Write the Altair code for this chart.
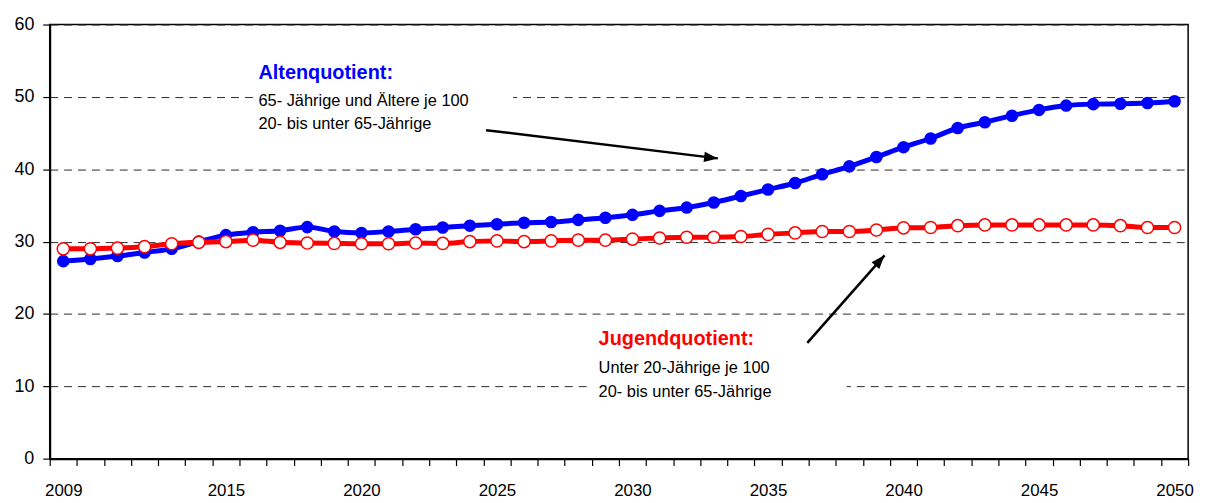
import altair as alt
import pandas as pd

# ---------------- data ----------------
years = list(range(2009, 2051))
alten = [27.3, 27.6, 28.0, 28.5, 29.0, 30.0, 30.9, 31.3, 31.5, 32.0, 31.4, 31.2, 31.4, 31.7,
         31.95, 32.2, 32.4, 32.6, 32.7, 33.0, 33.3, 33.7, 34.25, 34.7, 35.4, 36.3, 37.2, 38.1,
         39.3, 40.4, 41.7, 43.05, 44.25, 45.7, 46.5, 47.4, 48.2, 48.8, 49.0, 49.05, 49.15, 49.4]
jugend = [29.0, 29.0, 29.1, 29.3, 29.7, 29.9, 30.0, 30.2, 29.9, 29.8, 29.75, 29.7, 29.7, 29.8,
          29.75, 30.0, 30.1, 30.0, 30.1, 30.2, 30.2, 30.35, 30.5, 30.6, 30.6, 30.7, 31.0, 31.2,
          31.4, 31.4, 31.6, 31.9, 31.95, 32.2, 32.3, 32.3, 32.3, 32.3, 32.3, 32.2, 31.95, 31.95]

tick_years = [y - 0.5 for y in years] + [years[-1] + 0.5]
label_years = [2009, 2015, 2020, 2025, 2030, 2035, 2040, 2045, 2050]
y_ticks = [0, 10, 20, 30, 40, 50, 60]

# annotation texts (anchored in data coordinates)
title_text = ["Altenquotient:", "Jugendquotient:"]
title_color = ["#0000FF", "#FF0000"]
title_x = [2016.2, 2028.75]
title_y = [52.5, 15.7]

body_text = ["65- Jährige und Ältere je 100", "20- bis unter 65-Jährige",
             "Unter 20-Jährige je 100", "20- bis unter 65-Jährige"]
body_x = [2016.2, 2016.2, 2028.75, 2028.75]
body_y = [48.7, 45.5, 11.8, 8.5]

box_x = [2016.05, 2028.5]
box_x2 = [2025.6, 2037.9]
box_y = [44.0, 7.3]
box_y2 = [55.0, 19.0]

arrow_x = [2024.6, 2036.45]
arrow_y = [45.4, 16.0]
arrow_x2 = [2033.15, 2039.3]
arrow_y2 = [41.5, 28.1]
arrow_angle = [96.8, 41.6]

# ---------------- chart ----------------
FONT = "Liberation Sans, Arial, sans-serif"
W, H = 1146, 437

df = pd.DataFrame({"year": years, "alten": alten, "jugend": jugend})
titles = pd.DataFrame({"t": title_text, "c": title_color, "x": title_x, "y": title_y})
bodies = pd.DataFrame({"t": body_text, "x": body_x, "y": body_y})
boxes = pd.DataFrame({"x": box_x, "x2": box_x2, "y": box_y, "y2": box_y2})
arrows = pd.DataFrame({"x": arrow_x, "y": arrow_y, "x2": arrow_x2, "y2": arrow_y2, "a": arrow_angle})

xs = alt.Scale(domain=[2008.5, 2050.5], nice=False, zero=False)
ys = alt.Scale(domain=[0, 60], nice=False, zero=False)

x_tick_axis = alt.Axis(values=tick_years, labels=False, ticks=True, tickSize=7,
                       tickColor="black", tickWidth=1.2, domain=True, domainColor="black",
                       domainWidth=2, grid=False, title=None, orient="bottom")
x_label_axis = alt.Axis(values=label_years, ticks=False, domain=False, labels=True,
                        labelFontSize=17, labelFont=FONT, labelColor="black",
                        labelPadding=24, labelOverlap=False, labelFlush=False,
                        format="d", grid=False, title=None, orient="bottom")
y_axis = alt.Axis(values=y_ticks, grid=True, gridDash=[8, 6], gridColor="#2a2a2a",
                  gridWidth=1, tickSize=7, tickColor="black", tickWidth=1.2,
                  domainColor="black", domainWidth=2, labelFontSize=18, labelFont=FONT,
                  labelColor="black", labelPadding=9, title=None, format="d")


def X(field, axis=None):
    return alt.X(field, type="quantitative", scale=xs, axis=axis)


def Y(field):
    return alt.Y(field, type="quantitative", scale=ys, axis=y_axis)


blue_line = alt.Chart(df).mark_line(color="#0000FF", strokeWidth=5, interpolate="monotone").encode(
    x=X("year", x_tick_axis), y=Y("alten"))
blue_pts = alt.Chart(df).mark_point(filled=True, color="#0000FF", size=160, opacity=1,
                                    shape="circle").encode(x=X("year"), y=Y("alten"))
red_line = alt.Chart(df).mark_line(color="#FF0000", strokeWidth=5, interpolate="monotone").encode(
    x=X("year", x_label_axis), y=Y("jugend"))
red_pts = alt.Chart(df).mark_point(filled=True, fill="white", stroke="#FF0000", strokeWidth=1.5,
                                   size=150, opacity=1, shape="circle").encode(
    x=X("year"), y=Y("jugend"))

box_layer = alt.Chart(boxes).mark_rect(fill="white").encode(
    x=X("x"), x2="x2", y=Y("y"), y2="y2")

title_layer = alt.Chart(titles).mark_text(font=FONT, fontSize=20, fontWeight="bold",
                                          align="left", baseline="alphabetic").encode(
    x=X("x"), y=Y("y"), text="t:N", color=alt.Color("c:N", scale=None))
body_layer = alt.Chart(bodies).mark_text(font=FONT, fontSize=16.5, color="black",
                                         align="left", baseline="alphabetic").encode(
    x=X("x"), y=Y("y"), text="t:N")

arrow_lines = alt.Chart(arrows).mark_rule(color="black", strokeWidth=2.5).encode(
    x=X("x"), y=Y("y"), x2="x2", y2="y2")
arrow_heads = alt.Chart(arrows).mark_point(
    shape="M0,0 L-0.6,1.6 L0.6,1.6 Z", filled=True, color="black", size=300, opacity=1
).encode(x=X("x2"), y=Y("y2"), angle=alt.Angle("a:Q", scale=None))

chart = alt.layer(
    blue_line, blue_pts, red_line, red_pts, box_layer, title_layer, body_layer,
    arrow_lines, arrow_heads
).resolve_axis(x="independent").properties(
    width=W, height=H,
    padding={"left": 42, "top": 15, "right": 20, "bottom": 43},
    autosize=alt.AutoSizeParams(type="none"),
    background="white",
).configure_view(stroke="black", strokeWidth=1.5)

chart.save("out.html", embed_options={"renderer": "svg", "actions": False})
